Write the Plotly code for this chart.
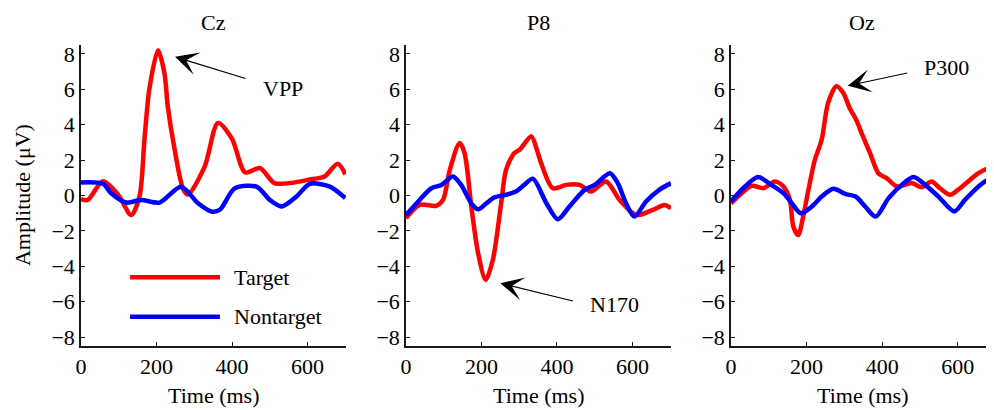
import plotly.graph_objects as go

# ---------------- data ----------------
channels = ["Cz", "P8", "Oz"]

cz_target_t = [0, 18, 58, 98, 133, 155, 168, 181, 204, 221, 230, 248, 270, 283, 327, 363, 400, 435, 474, 512, 553, 610, 645, 680, 700]
cz_target_v = [-0.2, -0.25, 0.8, 0.05, -1.1, -0.05, 3.15, 6.0, 8.2, 6.9, 5.0, 2.6, 0.4, 0.05, 1.6, 4.1, 3.2, 1.3, 1.55, 0.7, 0.7, 0.92, 1.07, 1.8, 1.2]
cz_nontarget_t = [0, 58, 80, 120, 160, 208, 265, 310, 345, 368, 407, 465, 500, 531, 571, 606, 659, 700]
cz_nontarget_v = [0.74, 0.66, 0.13, -0.4, -0.25, -0.4, 0.5, -0.44, -0.9, -0.8, 0.4, 0.5, -0.25, -0.62, -0.05, 0.66, 0.5, -0.15]

p8_target_t = [0, 36, 80, 98, 116, 142, 155, 173, 191, 211, 230, 252, 265, 287, 301, 332, 345, 358, 389, 424, 460, 490, 530, 566, 610, 654, 685, 702]
p8_target_v = [-1.28, -0.53, -0.58, -0.25, 1.45, 2.96, 2.4, -0.62, -3.26, -4.77, -3.64, -0.44, 1.45, 2.4, 2.58, 3.34, 2.7, 1.83, 0.41, 0.6, 0.6, 0.22, 0.79, -0.25, -1.1, -0.81, -0.53, -0.72]
p8_nontarget_t = [0, 36, 67, 94, 124, 146, 173, 191, 213, 235, 265, 291, 313, 336, 372, 402, 433, 473, 500, 540, 561, 583, 605, 636, 671, 702]
p8_nontarget_v = [-1.1, -0.25, 0.41, 0.6, 1.07, 0.6, -0.44, -0.78, -0.44, -0.1, 0.04, 0.22, 0.6, 0.95, -0.44, -1.34, -0.62, 0.32, 0.6, 1.26, 0.7, -0.44, -1.19, -0.34, 0.32, 0.7]

oz_target_t = [0, 28, 55, 86, 116, 139, 156, 165, 178, 191, 205, 222, 240, 257, 279, 297, 314, 333, 346, 368, 390, 412, 439, 478, 505, 531, 553, 580, 606, 633, 655, 686, 700]
oz_target_v = [-0.44, 0.13, 0.55, 0.41, 0.79, 0.51, -0.25, -1.76, -2.23, -1.19, 0.32, 2.02, 3.15, 5.23, 6.17, 5.8, 4.94, 4.2, 3.5, 2.4, 1.26, 0.98, 0.51, 0.7, 0.47, 0.79, 0.41, 0.04, 0.41, 0.89, 1.26, 1.55, 1.3]
oz_nontarget_t = [0, 37, 72, 107, 139, 161, 185, 214, 240, 271, 302, 330, 355, 383, 417, 452, 483, 514, 549, 591, 619, 655, 681, 700]
oz_nontarget_v = [-0.34, 0.51, 1.04, 0.6, 0.13, -0.44, -1.0, -0.62, -0.06, 0.38, 0.09, -0.06, -0.62, -1.19, -0.15, 0.6, 1.04, 0.6, -0.06, -0.9, -0.25, 0.51, 0.89, 0.75]

series_names = ["Target", "Nontarget"]
x_ticks = [0, 200, 400, 600]
y_ticks = [-8, -6, -4, -2, 0, 2, 4, 6, 8]

# annotated components: (label, panel index, tip t, tip v, text t, text v)
components = [
    ("VPP", 0, 249, 7.83, 535, 6.04),
    ("N170", 1, 250, -4.96, 552, -6.13),
    ("P300", 2, 309, 6.2, 571, 7.21),
]
# arrow tail offsets in pixels from the tip
arrow_tails = {"VPP": (72, 22), "N170": (74, 18), "P300": (61, -13)}

# ---------------- figure ----------------
FONT = "Liberation Serif, Times New Roman, serif"
RED = "#ff0000"
BLUE = "#0000ff"

panels = [
    (cz_target_t, cz_target_v, cz_nontarget_t, cz_nontarget_v),
    (p8_target_t, p8_target_v, p8_nontarget_t, p8_nontarget_v),
    (oz_target_t, oz_target_v, oz_nontarget_t, oz_nontarget_v),
]

fig = go.Figure()
for i, (tt, tv, nt, nv) in enumerate(panels):
    xa = "x" if i == 0 else f"x{i+1}"
    ya = "y" if i == 0 else f"y{i+1}"
    fig.add_trace(go.Scatter(x=tt, y=tv, mode="lines", name=series_names[0],
                             line=dict(color=RED, width=4.5, shape="spline", smoothing=0.8),
                             xaxis=xa, yaxis=ya, showlegend=False))
    fig.add_trace(go.Scatter(x=nt, y=nv, mode="lines", name=series_names[1],
                             line=dict(color=BLUE, width=4.5, shape="spline", smoothing=0.8),
                             xaxis=xa, yaxis=ya, showlegend=False))

domains = [[0.0, 0.2903], [0.356, 0.6462], [0.7119, 1.0]]
x_ranges = [[0, 702], [0, 702], [0, 696]]

axis_common = dict(showgrid=False, zeroline=False, showline=True, linecolor="#1a1a1a",
                   linewidth=1.5, ticks="inside", ticklen=4, tickwidth=1, tickcolor="#1a1a1a",
                   tickfont=dict(family=FONT, size=22, color="black"), mirror=False)

# the page places the figure 8 px from the window's top-left corner
layout = dict(width=986, height=402, margin=dict(l=73, r=0, t=37, b=64),
              plot_bgcolor="white", paper_bgcolor="white",
              font=dict(family=FONT, size=22, color="black"), showlegend=False)
for i in range(3):
    sx = "" if i == 0 else str(i + 1)
    layout[f"xaxis{sx}"] = dict(axis_common, domain=domains[i], range=x_ranges[i],
                                tickvals=x_ticks, anchor=f"y{sx}")
    layout[f"yaxis{sx}"] = dict(axis_common, domain=[0, 1], range=[-8.5, 8.5],
                                tickvals=y_ticks, anchor=f"x{sx}")
fig.update_layout(**layout)

annotations = []
for i, name in enumerate(channels):
    cx = (domains[i][0] + domains[i][1]) / 2
    annotations.append(dict(text=name, xref="paper", yref="paper", x=cx, y=1.0764,
                            xanchor="center", yanchor="middle", showarrow=False,
                            font=dict(family=FONT, size=22)))
    annotations.append(dict(text="Time (ms)", xref="paper", yref="paper", x=cx, y=-0.163,
                            xanchor="center", yanchor="middle", showarrow=False,
                            font=dict(family=FONT, size=22)))
annotations.append(dict(text="Amplitude (μV)", xref="paper", yref="paper", x=-0.0635, y=0.5017,
                        textangle=-90, xanchor="center", yanchor="middle", showarrow=False,
                        font=dict(family=FONT, size=22)))

for label, p, tx, tv, lx, lv in components:
    sx = "" if p == 0 else str(p + 1)
    offs = arrow_tails[label]
    annotations.append(dict(text="", x=tx, y=tv, xref=f"x{sx}", yref=f"y{sx}",
                            showarrow=True, arrowhead=3, arrowsize=3.5, arrowwidth=1.1,
                            arrowcolor="black", ax=offs[0], ay=offs[1]))
    annotations.append(dict(text=label, x=lx, y=lv, xref=f"x{sx}", yref=f"y{sx}",
                            showarrow=False, xanchor="center", yanchor="middle",
                            font=dict(family=FONT, size=22)))

# legend drawn inside the first panel
legend_rows = [(series_names[0], RED, -4.62), (series_names[1], BLUE, -6.85)]
shapes = []
for name, col, yv in legend_rows:
    shapes.append(dict(type="line", xref="x", yref="y", x0=130, x1=368, y0=yv, y1=yv,
                       line=dict(color=col, width=4.5)))
    annotations.append(dict(text=name, x=399, y=yv, xref="x", yref="y", showarrow=False,
                            xanchor="left", yanchor="middle", font=dict(family=FONT, size=22)))

fig.update_layout(annotations=annotations, shapes=shapes)
fig.write_html("out.html")
